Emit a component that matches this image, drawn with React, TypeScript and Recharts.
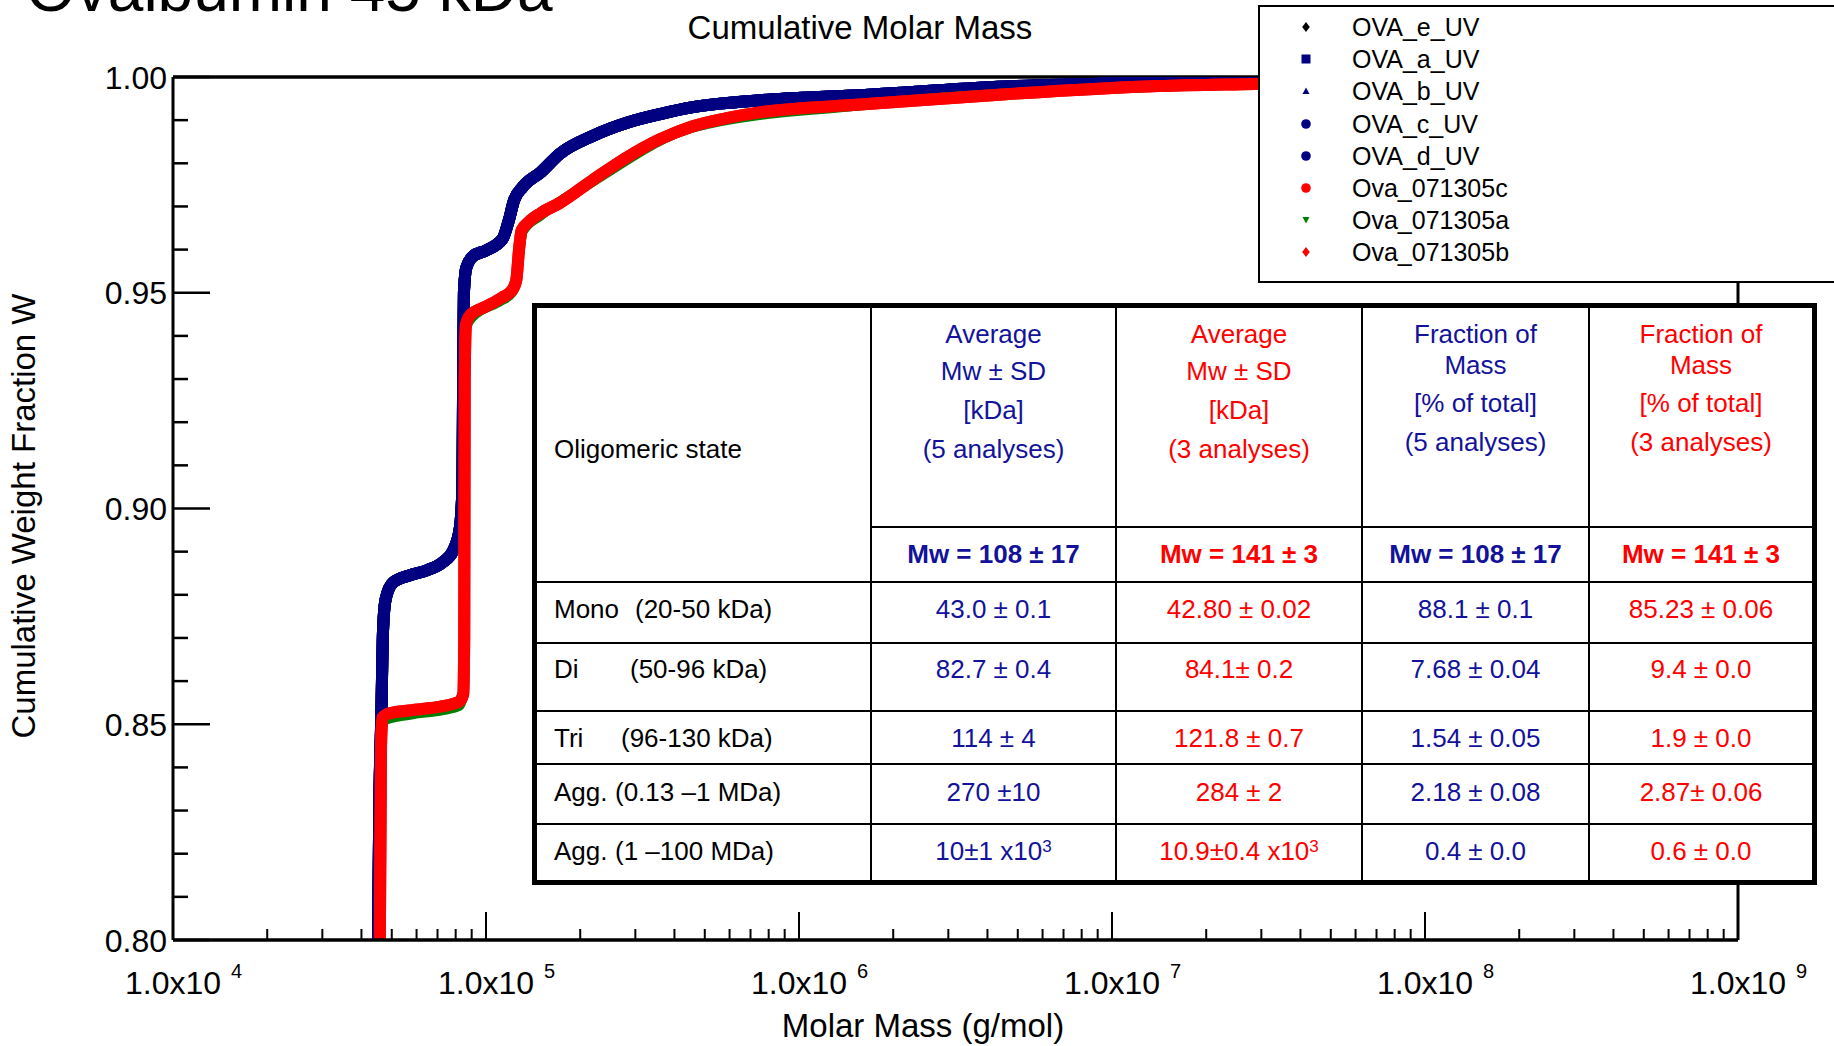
import React from 'react';
import { LineChart, Line, XAxis, YAxis, ReferenceLine, Legend } from 'recharts';

const FONT = '"Liberation Sans", Arial, Helvetica, sans-serif';
const NAVY = '#000080';
const RED = '#ff0000';
const GREEN = '#008000';
const BLUE_TXT = '#12129a';
const RED_TXT = '#ff0000';

type Pt = { x: number; y: number };

// cumulative weight fraction vs molar mass (g/mol)
const blueCurve: Pt[] = [
  { x: 45200, y: 0.8 }, { x: 45600, y: 0.83 }, { x: 46300, y: 0.852 }, { x: 46900, y: 0.872 },
  { x: 47800, y: 0.879 }, { x: 50400, y: 0.8828 }, { x: 57000, y: 0.8845 }, { x: 64800, y: 0.8857 },
  { x: 72900, y: 0.8876 }, { x: 78500, y: 0.8902 }, { x: 82500, y: 0.8955 }, { x: 84100, y: 0.905 },
  { x: 84500, y: 0.93 }, { x: 85000, y: 0.95 }, { x: 86500, y: 0.9558 }, { x: 91000, y: 0.9585 },
  { x: 100000, y: 0.9598 }, { x: 113000, y: 0.9625 }, { x: 118000, y: 0.9665 }, { x: 123000, y: 0.9715 },
  { x: 131000, y: 0.9745 }, { x: 150000, y: 0.978 }, { x: 172000, y: 0.9822 }, { x: 220000, y: 0.9864 },
  { x: 282000, y: 0.9894 }, { x: 360000, y: 0.9914 }, { x: 458000, y: 0.993 }, { x: 750000, y: 0.9946 },
  { x: 1490000, y: 0.9957 }, { x: 4580000, y: 0.9978 }, { x: 14100000, y: 0.9987 }, { x: 100000000, y: 0.9995 },
];

const redCurve: Pt[] = [
  { x: 45800, y: 0.8 }, { x: 46200, y: 0.845 }, { x: 46700, y: 0.8515 }, { x: 48500, y: 0.8524 },
  { x: 57000, y: 0.8532 }, { x: 72900, y: 0.8542 }, { x: 82000, y: 0.8552 }, { x: 84600, y: 0.857 },
  { x: 85200, y: 0.87 }, { x: 85500, y: 0.93 }, { x: 86300, y: 0.9425 }, { x: 89000, y: 0.9448 },
  { x: 100000, y: 0.9468 }, { x: 112000, y: 0.9488 }, { x: 121000, y: 0.9505 }, { x: 125000, y: 0.953 },
  { x: 127500, y: 0.96 }, { x: 130000, y: 0.9645 }, { x: 136000, y: 0.9662 }, { x: 150000, y: 0.9685 },
  { x: 172000, y: 0.9708 }, { x: 220000, y: 0.9762 }, { x: 282000, y: 0.9814 }, { x: 360000, y: 0.9856 },
  { x: 458000, y: 0.9886 }, { x: 600000, y: 0.9906 }, { x: 750000, y: 0.9918 }, { x: 1000000, y: 0.9927 },
  { x: 1490000, y: 0.9935 }, { x: 4580000, y: 0.996 }, { x: 14100000, y: 0.9979 }, { x: 28600000, y: 0.9984 },
  { x: 100000000, y: 0.9992 },
];

const greenCurve: Pt[] = [
  { x: 45800, y: 0.8 }, { x: 46300, y: 0.849 }, { x: 47000, y: 0.8508 }, { x: 57000, y: 0.8522 },
  { x: 72900, y: 0.8533 }, { x: 82000, y: 0.8542 }, { x: 84600, y: 0.857 }, { x: 85300, y: 0.88 },
  { x: 85600, y: 0.93 }, { x: 86500, y: 0.942 }, { x: 90000, y: 0.9442 }, { x: 112000, y: 0.9482 },
  { x: 121000, y: 0.95 }, { x: 125000, y: 0.953 }, { x: 128000, y: 0.96 }, { x: 131000, y: 0.9642 },
  { x: 150000, y: 0.968 }, { x: 220000, y: 0.9758 }, { x: 458000, y: 0.9883 }, { x: 1490000, y: 0.9933 },
  { x: 14100000, y: 0.9978 }, { x: 100000000, y: 0.9991 },
];

const seriesList = [
  { name: 'OVA_e_UV', stroke: '#000000', marker: 'diamond', width: 12, data: blueCurve },
  { name: 'OVA_a_UV', stroke: NAVY, marker: 'square', width: 12, data: blueCurve },
  { name: 'OVA_b_UV', stroke: NAVY, marker: 'triangle', width: 12, data: blueCurve },
  { name: 'OVA_c_UV', stroke: NAVY, marker: 'circle', width: 12, data: blueCurve },
  { name: 'OVA_d_UV', stroke: NAVY, marker: 'circle', width: 12, data: blueCurve },
  { name: 'Ova_071305c', stroke: RED, marker: 'circle', width: 12, data: redCurve },
  { name: 'Ova_071305a', stroke: GREEN, marker: 'triangleDown', width: 10, data: greenCurve },
  { name: 'Ova_071305b', stroke: RED, marker: 'diamond', width: 12, data: redCurve },
];

const decades = [1e4, 1e5, 1e6, 1e7, 1e8];
const minorSteps = [2, 3, 4, 5, 6, 7, 8, 9];
const xTicks = decades.flatMap((d) => [d, ...minorSteps.map((m) => m * d)]).concat([1e9]);
const yTicks = [
  0.8, 0.81, 0.82, 0.83, 0.84, 0.85, 0.86, 0.87, 0.88, 0.89, 0.9,
  0.91, 0.92, 0.93, 0.94, 0.95, 0.96, 0.97, 0.98, 0.99, 1.0,
];

// table contents
const tableCols = [
  { head: ['Average', 'Mw ± SD', '[kDa]', '(5 analyses)'], color: BLUE_TXT, total: 'Mw = 108 ± 17' },
  { head: ['Average', 'Mw ± SD', '[kDa]', '(3 analyses)'], color: RED_TXT, total: 'Mw = 141 ± 3' },
  { head: ['Fraction of', 'Mass', '[% of total]', '(5 analyses)'], color: BLUE_TXT, total: 'Mw = 108 ± 17' },
  { head: ['Fraction of', 'Mass', '[% of total]', '(3 analyses)'], color: RED_TXT, total: 'Mw = 141 ± 3' },
];
const rowStates = ['Mono', 'Di', 'Tri', 'Agg.', 'Agg.'];
const rowRanges = ['(20-50 kDa)', '(50-96 kDa)', '(96-130 kDa)', '(0.13 –1 MDa)', '(1 –100 MDa)'];
const mwBlue = ['43.0 ± 0.1', '82.7 ± 0.4', '114 ± 4', '270 ±10', '10±1 x10^3'];
const mwRed = ['42.80 ± 0.02', '84.1± 0.2', '121.8 ± 0.7', '284 ± 2', '10.9±0.4 x10^3'];
const fracBlue = ['88.1 ± 0.1', '7.68 ± 0.04', '1.54 ± 0.05', '2.18 ± 0.08', '0.4 ± 0.0'];
const fracRed = ['85.23 ± 0.06', '9.4 ± 0.0', '1.9 ± 0.0', '2.87± 0.06', '0.6 ± 0.0'];

const colEdges = [536, 871, 1116, 1362, 1589, 1813];
const rowLines = [582, 643, 711, 764, 824];
const rowCenters = [609, 669, 738, 792, 851];
const rangeX = [635, 630, 621, 615, 615];

const XTick = (props: any) => {
  const { x, y, payload } = props;
  const v = payload.value;
  const exp = Math.round(Math.log10(v));
  const major = Math.abs(v - Math.pow(10, exp)) < v * 1e-6;
  return (
    <g>
      <line x1={x} x2={x} y1={y} y2={y - (major ? 28 : 11)} stroke="#000" strokeWidth={2} />
      {major && (
        <>
          <text x={x} y={y + 54} textAnchor="middle" fontSize={32} fontFamily={FONT} fill="#000">1.0x10</text>
          <text x={x + 58} y={y + 38} fontSize={20} fontFamily={FONT} fill="#000">{exp}</text>
        </>
      )}
    </g>
  );
};

const YTick = (props: any) => {
  const { x, y, payload } = props;
  const v = payload.value;
  const major = Math.round(v * 100) % 5 === 0;
  return (
    <g>
      <line x1={x} x2={x + (major ? 37 : 15)} y1={y} y2={y} stroke="#000" strokeWidth={2.5} />
      {major && (
        <text x={x - 6} y={y + 11.5} textAnchor="end" fontSize={32} fontFamily={FONT} fill="#000">{v.toFixed(2)}</text>
      )}
    </g>
  );
};

function Marker({ shape, color }: { shape: string; color: string }) {
  switch (shape) {
    case 'diamond':
      return <polygon points="7,2 10.8,7 7,12 3.2,7" fill={color} />;
    case 'square':
      return <rect x={2.5} y={2.5} width={9} height={9} fill={color} />;
    case 'triangle':
      return <polygon points="7,3.5 10.5,10 3.5,10" fill={color} />;
    case 'triangleDown':
      return <polygon points="3.5,4 10.5,4 7,10.5" fill={color} />;
    default:
      return <circle cx={7} cy={7} r={4.8} fill={color} />;
  }
}

const LegendBox = (props: any) => {
  const order = (name: string) => seriesList.findIndex((d) => d.name === name);
  const items = [...(props.payload ?? [])].sort((a: any, b: any) => order(a.value) - order(b.value));
  return (
    <div style={{ width: 700, height: 278, border: '2px solid #000', background: '#fff', boxSizing: 'border-box', position: 'relative', fontFamily: FONT }}>
      {items.map((it: any, i: number) => {
        const s = seriesList.find((d) => d.name === it.value);
        return (
          <div key={it.value} style={{ position: 'absolute', left: 0, top: 20 + i * 32.2 - 15, height: 30, width: 600 }}>
            <svg width={14} height={14} style={{ position: 'absolute', left: 39, top: 8 }}>
              <Marker shape={s ? s.marker : 'circle'} color={it.color} />
            </svg>
            <span style={{ position: 'absolute', left: 92, top: 0, fontSize: 25, lineHeight: '30px', color: '#000', whiteSpace: 'nowrap' }}>{it.value}</span>
          </div>
        );
      })}
    </div>
  );
};

function withSup(t: string) {
  const [base, sup] = t.split('^');
  return (
    <>
      {base}
      {sup && <span style={{ fontSize: 17, position: 'relative', top: -8 }}>{sup}</span>}
    </>
  );
}

function Txt({ x0, x1, cy, color = '#000', bold = false, align = 'center', children }: any) {
  return (
    <div style={{ position: 'absolute', left: x0, width: x1 - x0, top: cy - 16, height: 32, lineHeight: '32px', fontSize: 26, textAlign: align, color, fontWeight: bold ? 700 : 400, whiteSpace: 'pre' }}>
      {children}
    </div>
  );
}

function SummaryTable() {
  const bar = (l: number, t: number, w: number, h: number, k: string) => (
    <div key={k} style={{ position: 'absolute', left: l, top: t, width: w, height: h, background: '#000' }} />
  );
  const headY = [
    [334, 371, 410, 449],
    [334, 371, 410, 449],
    [334, 365, 403, 442],
    [334, 365, 403, 442],
  ];
  const bodyCols = [mwBlue, mwRed, fracBlue, fracRed];
  return (
    <div style={{ position: 'absolute', left: 0, top: 0, width: 1834, height: 1046, fontFamily: FONT }}>
      <div style={{ position: 'absolute', left: 532, top: 303, width: 1285, height: 582, border: '5px solid #000', boxSizing: 'border-box', background: '#fff' }} />
      {colEdges.slice(1, 5).map((c, i) => bar(c - 1, 308, 2, 573, 'v' + i))}
      {bar(871, 526, 942, 2, 'hsub')}
      {rowLines.map((r, i) => bar(537, r - 1, 1276, 2, 'h' + i))}
      <Txt x0={554} x1={871} cy={449} align="left">Oligomeric state</Txt>
      {tableCols.map((c, ci) => (
        <React.Fragment key={'c' + ci}>
          {c.head.map((h, hi) => (
            <Txt key={hi} x0={colEdges[ci + 1]} x1={colEdges[ci + 2]} cy={headY[ci][hi]} color={c.color}>{h}</Txt>
          ))}
          <Txt x0={colEdges[ci + 1]} x1={colEdges[ci + 2]} cy={554} color={c.color} bold>{c.total}</Txt>
          {bodyCols[ci].map((v, ri) => (
            <Txt key={'r' + ri} x0={colEdges[ci + 1]} x1={colEdges[ci + 2]} cy={rowCenters[ri]} color={c.color}>{withSup(v)}</Txt>
          ))}
        </React.Fragment>
      ))}
      {rowStates.map((s, ri) => (
        <React.Fragment key={'s' + ri}>
          <Txt x0={554} x1={871} cy={rowCenters[ri]} align="left">{s}</Txt>
          <Txt x0={rangeX[ri]} x1={871} cy={rowCenters[ri]} align="left">{rowRanges[ri]}</Txt>
        </React.Fragment>
      ))}
    </div>
  );
}

export default function App() {
  return (
    <div style={{ position: 'absolute', left: 0, top: 0, width: 1834, height: 1046, overflow: 'hidden', background: '#fff', fontFamily: FONT }}>
      <svg width={1834} height={1046} style={{ position: 'absolute', left: 0, top: 0 }}>
        <text x={26} y={11} fontSize={64} fontFamily={FONT} fill="#000">Ovalbumin 45 kDa</text>
        <text x={860} y={39} fontSize={33} fontFamily={FONT} fill="#000" textAnchor="middle">Cumulative Molar Mass</text>
        <text transform="translate(35,516) rotate(-90)" fontSize={33} fontFamily={FONT} fill="#000" textAnchor="middle">Cumulative Weight Fraction W</text>
        <text x={923} y={1037} fontSize={33} fontFamily={FONT} fill="#000" textAnchor="middle">Molar Mass (g/mol)</text>
      </svg>
      <div style={{ position: 'absolute', left: 0, top: 0 }}>
        <LineChart width={1834} height={1046} margin={{ top: 77, right: 96, bottom: 46, left: 93 }}>
          <XAxis
            dataKey="x"
            type="number"
            scale="log"
            domain={[1e4, 1e9]}
            ticks={xTicks}
            interval={0}
            allowDataOverflow
            tick={(p: any) => <XTick {...p} />}
            tickLine={false}
            tickSize={0}
            tickMargin={0}
            height={60}
            axisLine={{ stroke: '#000', strokeWidth: 3.5 }}
          />
          <YAxis
            type="number"
            domain={[0.8, 1.0]}
            ticks={yTicks}
            interval={0}
            allowDataOverflow
            tick={(p: any) => <YTick {...p} />}
            tickLine={false}
            tickSize={0}
            tickMargin={0}
            width={80}
            axisLine={{ stroke: '#000', strokeWidth: 3 }}
          />
          <ReferenceLine y={1} stroke="#000" strokeWidth={3.5} />
          <ReferenceLine x={1e9} stroke="#000" strokeWidth={3} />
          {seriesList.map((s) => (
            <Line
              key={s.name}
              name={s.name}
              data={s.data}
              dataKey="y"
              type="monotone"
              stroke={s.stroke}
              strokeWidth={s.width}
              strokeLinejoin="round"
              dot={false}
              activeDot={false}
              isAnimationActive={false}
            />
          ))}
          <Legend
            layout="vertical"
            align="center"
            verticalAlign="middle"
            wrapperStyle={{ left: 1258, top: 5, width: 700, height: 278 }}
            content={(p: any) => <LegendBox {...p} />}
          />
        </LineChart>
      </div>
      <SummaryTable />
    </div>
  );
}
